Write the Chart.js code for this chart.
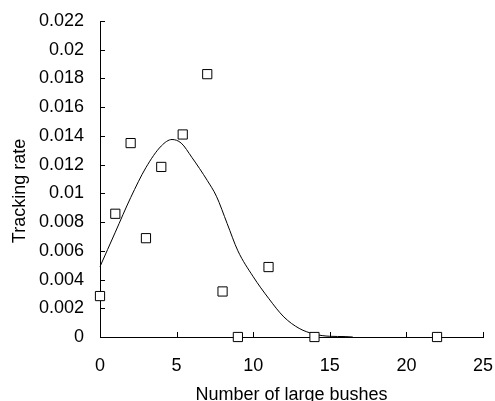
<!DOCTYPE html>
<html>
<head>
<meta charset="utf-8">
<script src="https://cdn.jsdelivr.net/npm/chart.js@4.4.1/dist/chart.umd.min.js"></script>
<style>
  html, body { margin: 0; padding: 0; background: #fff; }
  #wrap { width: 495px; height: 401px; }
</style>
</head>
<body>
<div id="wrap"><canvas id="chart" width="495" height="401"></canvas></div>
<script>
// observed points
var bushes = [0, 1, 2, 3, 4, 5.4, 7, 8, 9, 11, 14, 22];
var rates = [0.00285, 0.00858, 0.0135, 0.00688, 0.01184, 0.0141, 0.0183, 0.00317, 0, 0.00487, 0, 0];

// fitted curve
var fitX = [0, 0.5, 1, 2, 3, 4, 4.7, 5.3, 6, 7, 7.6, 8.3, 9, 10, 11, 12, 13, 14, 15, 16, 16.5];
var fitY = [0.0049, 0.0061, 0.0073, 0.0097, 0.0118, 0.0133, 0.01375, 0.0135, 0.0125, 0.0109, 0.0098, 0.0079, 0.0060, 0.0042, 0.0027, 0.0014, 0.0006, 0.0002, 0.00005, 0.00003, 0];

var xTicks = [0, 5, 10, 15, 20, 25];
var yMax = 0.022;
var yStep = 0.002;
var yTitle = 'Tracking rate';

function pairs(xs, ys) {
  var out = [];
  for (var i = 0; i < xs.length; i++) out.push({x: xs[i], y: ys[i]});
  return out;
}

var fontFamily = '"Liberation Sans", Arial, sans-serif';

// tick marks drawn on the inside of the axes, plus the y title
var innerTicks = {
  id: 'innerTicks',
  afterDatasetsDraw: function(chart) {
    var ctx = chart.ctx, a = chart.chartArea;
    var xs = chart.scales.x, ys = chart.scales.y;
    ctx.save();
    ctx.strokeStyle = '#000';
    ctx.lineWidth = 1;
    ctx.beginPath();
    ys.ticks.forEach(function(t) {
      var py = Math.round(ys.getPixelForValue(t.value)) + 0.5;
      ctx.moveTo(a.left, py);
      ctx.lineTo(a.left + 5, py);
    });
    xs.ticks.forEach(function(t) {
      var px = Math.round(xs.getPixelForValue(t.value)) + 0.5;
      ctx.moveTo(px, a.bottom);
      ctx.lineTo(px, a.bottom - 5);
    });
    ctx.stroke();

    ctx.translate(20, (a.top + a.bottom) / 2 + 12);
    ctx.rotate(-Math.PI / 2);
    ctx.fillStyle = '#000';
    ctx.font = '18px ' + fontFamily;
    ctx.textAlign = 'center';
    ctx.textBaseline = 'middle';
    ctx.fillText(yTitle, 0, 0);
    ctx.restore();
  }
};

var ctx = document.getElementById('chart');
var myChart = new Chart(ctx, {
  type: 'scatter',
  data: {
    datasets: [
      {
        label: 'Observed',
        data: pairs(bushes, rates),
        pointStyle: 'rect',
        pointRadius: 6.5,
        pointHoverRadius: 6.5,
        backgroundColor: '#fff',
        borderColor: '#000',
        borderWidth: 1,
        clip: false
      },
      {
        label: 'Fit',
        type: 'line',
        data: pairs(fitX, fitY),
        borderColor: '#000',
        borderWidth: 1,
        pointRadius: 0,
        fill: false,
        cubicInterpolationMode: 'monotone',
        clip: false
      }
    ]
  },
  options: {
    responsive: false,
    animation: false,
    events: [],
    layout: { padding: { left: 0, right: 0, top: 21, bottom: 0 } },
    plugins: {
      legend: { display: false },
      tooltip: { enabled: false }
    },
    scales: {
      x: {
        type: 'linear',
        min: 0,
        max: 25,
        afterFit: function(s) {
          s.height = 64;
          s.paddingRight = 12;
          s.paddingLeft = 0;
        },
        afterBuildTicks: function(s) {
          s.ticks = xTicks.map(function(v) { return {value: v}; });
        },
        border: { display: true, color: '#000', width: 1 },
        grid: { display: true, drawOnChartArea: false, drawTicks: false },
        ticks: {
          color: '#000',
          padding: 18,
          maxRotation: 0,
          font: { family: fontFamily, size: 18 }
        },
        title: {
          display: true,
          text: 'Number of large bushes',
          color: '#000',
          padding: { top: 0, bottom: -5 },
          font: { family: fontFamily, size: 18 }
        }
      },
      y: {
        type: 'linear',
        min: 0,
        max: yMax,
        afterFit: function(s) {
          s.width = 100;
          s.paddingTop = 0;
          s.paddingBottom = 0;
        },
        border: { display: true, color: '#000', width: 1 },
        grid: { display: true, drawOnChartArea: false, drawTicks: false },
        ticks: {
          stepSize: yStep,
          color: '#000',
          padding: 16,
          font: { family: fontFamily, size: 18 },
          callback: function(v) { return String(parseFloat(v.toFixed(3))); }
        }
      }
    }
  },
  plugins: [innerTicks]
});
</script>
</body>
</html>
